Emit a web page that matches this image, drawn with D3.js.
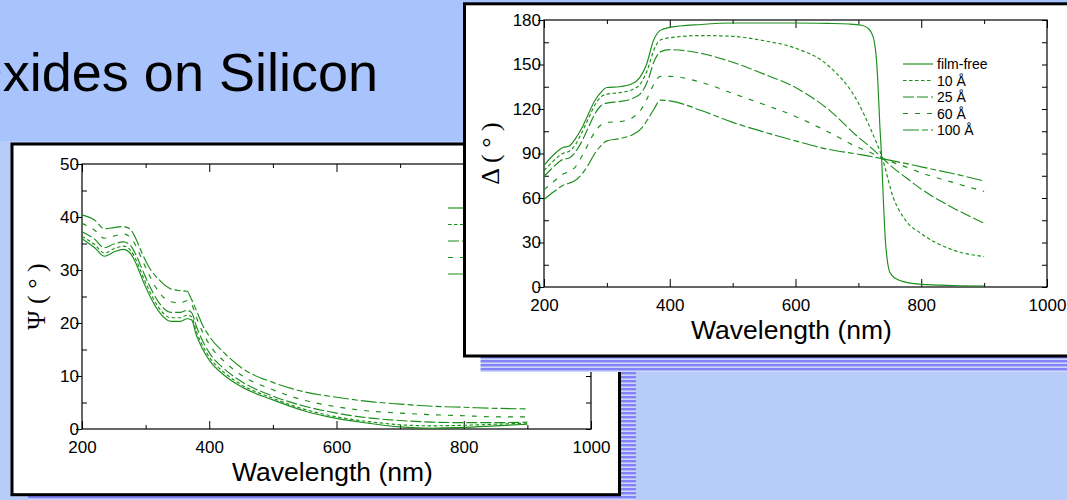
<!DOCTYPE html>
<html>
<head>
<meta charset="utf-8">
<script src="https://cdn.jsdelivr.net/npm/d3@7"></script>
<style>
  html, body { margin: 0; padding: 0; background: #b7ccf8; }
  svg { display: block; }
</style>
</head>
<body>
<svg id="slide" width="1067" height="500"></svg>
<script>
// ---- Data -------------------------------------------------------------
const seriesNames = ["film-free", "10 Å", "25 Å", "60 Å", "100 Å"];

// Psi (degrees) versus wavelength (nm)
const psiWl        = [200, 220, 235, 250, 265, 275, 285, 295, 305, 320, 340, 355, 365, 372, 380, 390, 400, 425, 450, 500, 550, 600, 650, 700, 750, 800, 850, 900];
const psiFilmFree  = [35.9, 34.2, 32.6, 33.4, 33.9, 33.3, 31.2, 28.2, 25.5, 22.3, 20.3, 20.3, 20.8, 20.6, 17.6, 15.0, 13.0, 10.0, 8.0, 5.5, 3.4, 2.0, 1.1, 0.4, 0.15, 0.3, 0.6, 0.9];
const psi10        = [36.3, 34.8, 33.2, 34.0, 34.5, 33.9, 31.9, 29.0, 26.3, 23.0, 21.0, 21.0, 21.5, 21.2, 18.3, 15.6, 13.6, 10.5, 8.4, 5.8, 3.7, 2.3, 1.4, 0.8, 0.6, 0.7, 0.9, 1.1];
const psi25        = [37.2, 35.8, 34.2, 34.9, 35.3, 34.8, 32.8, 30.0, 27.3, 24.0, 22.0, 22.0, 22.4, 22.0, 19.3, 16.5, 14.4, 11.2, 9.0, 6.2, 4.3, 3.0, 2.1, 1.6, 1.3, 1.2, 1.2, 1.3];
const psi60        = [38.8, 37.5, 36.0, 36.4, 36.8, 36.3, 34.5, 31.8, 29.2, 26.0, 24.0, 23.8, 24.2, 23.6, 21.0, 18.2, 16.0, 12.6, 10.2, 7.4, 5.4, 4.2, 3.4, 3.0, 2.7, 2.5, 2.3, 2.3];
const psi100       = [40.4, 39.4, 37.8, 38.0, 38.2, 37.8, 35.8, 33.0, 30.6, 28.3, 26.4, 26.1, 26.0, 24.5, 22.3, 19.5, 17.5, 14.2, 11.6, 8.8, 7.0, 6.0, 5.2, 4.7, 4.3, 4.1, 3.9, 3.8];

// Delta (degrees) versus wavelength (nm); the bare substrate is sampled
// more finely around its sharp drop near 735 nm
const deltaFilmFreeWl = [200, 215, 230, 240, 250, 260, 270, 280, 290, 300, 320, 340, 352, 363, 374, 385, 400, 450, 500, 550, 600, 650, 685, 705, 715, 720, 725, 728, 731, 734, 737, 740, 743, 746, 750, 760, 775, 800, 850, 900];
const deltaFilmFree   = [82, 89, 94, 95, 100, 107, 116, 125, 131, 134.5, 135, 137, 141, 150, 166, 173, 175, 177, 178, 178, 178, 177.7, 177.3, 176.5, 174.5, 172, 166, 157, 138, 110, 87, 56, 31, 18, 10, 5.5, 3.3, 1.8, 1.0, 0.7];

const deltaWl   = [200, 215, 230, 240, 250, 260, 270, 280, 290, 300, 320, 340, 355, 365, 375, 385, 400, 450, 500, 550, 600, 650, 700, 720, 738, 755, 775, 800, 850, 900];
const delta10   = [78.5, 85, 90, 91.5, 96, 104, 113, 122, 128, 130, 131, 133, 138, 147, 160, 166.5, 168, 169.5, 169, 166, 161, 150, 124, 106, 87, 61, 45, 36, 25, 20.5];
const delta25   = [74.5, 81, 86, 87, 91, 98, 107, 116, 122, 124, 125, 127, 131, 139, 152, 158.5, 160, 157.5, 151.5, 143.5, 134.5, 120.5, 101, 94, 87, 80.5, 74, 66, 53.5, 43];
const delta60   = [65.5, 71, 76, 78, 81, 88, 96, 104, 109, 111, 111.5, 114, 120, 128, 137, 142, 142, 138, 130.5, 123, 115, 105, 94, 90.5, 87, 84, 81, 77, 70.5, 64.5];
const delta100  = [59, 64, 68.5, 70, 72, 76, 82, 89.5, 95, 98.5, 100, 102.5, 107, 113, 120, 126, 125.5, 119, 111, 104.5, 98.5, 93, 89.5, 88, 86.5, 85, 83.3, 81, 76.5, 71.5];

// Axis ticks
const wlTicks      = [200, 400, 600, 800, 1000];
const wlMinorTicks = [300, 500, 700, 900];
const psiTicks     = [0, 10, 20, 30, 40, 50];
const psiMinor     = [5, 15, 25, 35, 45];
const deltaTicks   = [0, 30, 60, 90, 120, 150, 180];
const deltaMinor   = [15, 45, 75, 105, 135, 165];

// ---- Styling ------------------------------------------------------------
const GREEN = "#1a8e1a";
const dashes = ["none", "3.5,2.5", "11,3", "5,7", "16,3,6,3"];
const SANS = "'Liberation Sans', Arial, Helvetica, sans-serif";
const SERIF = "'Liberation Serif', 'Times New Roman', serif";

const svg = d3.select("#slide");
const defs = svg.append("defs");

// Dithered drop-shadow fill
const pat = defs.append("pattern")
  .attr("id", "shadowStripes")
  .attr("patternUnits", "userSpaceOnUse")
  .attr("width", 8).attr("height", 4);
pat.append("rect").attr("width", 8).attr("height", 4).attr("fill", "#cdd6fb");
pat.append("rect").attr("width", 8).attr("height", 2.4).attr("fill", "#8383f6");

// Slide background
svg.append("rect").attr("x", 0).attr("y", 0).attr("width", 1067).attr("height", 500).attr("fill", "#b7ccf8");
svg.append("rect").attr("x", 0).attr("y", 0).attr("width", 1067).attr("height", 141).attr("fill", "#a9c4fd");

// Slide title
svg.append("text")
  .attr("x", 378).attr("y", 91)
  .attr("text-anchor", "end")
  .attr("font-family", SANS)
  .attr("font-size", 54)
  .attr("fill", "#000")
  .text("Oxides on Silicon");

// ---- Panel drawing ------------------------------------------------------
function drawPanel(g, cfg) {
  const x = d3.scaleLinear().domain([200, 1000]).range([cfg.left, cfg.right]);
  const y = d3.scaleLinear().domain(cfg.yDomain).range([cfg.bottom, cfg.top]);

  const axisStyle = sel => {
    sel.select(".domain").remove();
    sel.selectAll("line").attr("stroke", "#000").attr("stroke-width", 1);
    sel.selectAll("text").attr("font-family", SANS).attr("font-size", 17).attr("fill", "#000");
  };

  // bottom: labelled major ticks (inward) + minor ticks
  g.append("g").attr("transform", `translate(0,${cfg.bottom})`)
    .call(d3.axisBottom(x).tickValues(wlTicks).tickSize(-8).tickPadding(12).tickFormat(d3.format("d")))
    .call(axisStyle)
    .call(s => s.selectAll("text").attr("dy", "0.71em"));
  g.append("g").attr("transform", `translate(0,${cfg.bottom})`)
    .call(d3.axisBottom(x).tickValues(wlMinorTicks).tickSize(-4).tickFormat(""))
    .call(axisStyle);
  // top
  g.append("g").attr("transform", `translate(0,${cfg.top})`)
    .call(d3.axisTop(x).tickValues(wlTicks).tickSize(-8).tickFormat(""))
    .call(axisStyle);
  g.append("g").attr("transform", `translate(0,${cfg.top})`)
    .call(d3.axisTop(x).tickValues(wlMinorTicks).tickSize(-4).tickFormat(""))
    .call(axisStyle);
  // left: labelled major ticks pointing out, minor ticks pointing in
  g.append("g").attr("transform", `translate(${cfg.left},0)`)
    .call(d3.axisLeft(y).tickValues(cfg.yTicks).tickSize(6).tickPadding(-3).tickFormat(d3.format("d")))
    .call(axisStyle);
  g.append("g").attr("transform", `translate(${cfg.left},0)`)
    .call(d3.axisLeft(y).tickValues(cfg.yMinor).tickSize(-5).tickFormat(""))
    .call(axisStyle);
  // right
  g.append("g").attr("transform", `translate(${cfg.right},0)`)
    .call(d3.axisRight(y).tickValues(cfg.yTicks.concat(cfg.yMinor)).tickSize(-5).tickFormat(""))
    .call(axisStyle);

  // plot frame
  g.append("rect")
    .attr("x", cfg.left).attr("y", cfg.top)
    .attr("width", cfg.right - cfg.left).attr("height", cfg.bottom - cfg.top)
    .attr("fill", "none").attr("stroke", "#000").attr("stroke-width", 1.2);

  // curves
  const line = d3.line().x(d => x(d[0])).y(d => y(d[1])).curve(d3.curveMonotoneX);
  cfg.series.forEach((s, i) => {
    g.append("path")
      .datum(d3.zip(s.wl, s.values))
      .attr("d", line)
      .attr("fill", "none")
      .attr("stroke", GREEN)
      .attr("stroke-width", 1.15)
      .attr("stroke-dasharray", dashes[i]);
  });

  // legend (key lines; the labels only where the panel leaves room)
  const leg = g.append("g").attr("transform", `translate(${cfg.legendX},${cfg.legendY})`);
  seriesNames.forEach((name, i) => {
    const row = leg.append("g").attr("transform", `translate(0,${i * 16.5})`);
    row.append("line").attr("x1", 0).attr("x2", 30).attr("y1", 0).attr("y2", 0)
      .attr("stroke", GREEN).attr("stroke-width", 1.15).attr("stroke-dasharray", dashes[i]);
    if (cfg.legendLabels) {
      row.append("text").attr("x", 34).attr("y", 5)
        .attr("font-family", SANS).attr("font-size", 14).attr("fill", "#000").text(name);
    }
  });

  // axis titles
  g.append("text")
    .attr("x", (cfg.left + cfg.right) / 2 - 4).attr("y", cfg.bottom + 52)
    .attr("text-anchor", "middle")
    .attr("font-family", SANS).attr("font-size", 26.5).attr("fill", "#000")
    .text("Wavelength (nm)");
  g.append("text")
    .attr("transform", `translate(${cfg.yTitleX},${(cfg.top + cfg.bottom) / 2}) rotate(-90)`)
    .attr("text-anchor", "middle")
    .attr("font-family", SERIF).attr("font-size", 26).attr("fill", "#000")
    .text(cfg.yTitle);
}

// ---- Left slide box: Psi -------------------------------------------------
svg.append("rect").attr("x", 28).attr("y", 160).attr("width", 608).attr("height", 351)
  .attr("fill", "url(#shadowStripes)");
svg.append("rect").attr("x", 12).attr("y", 144).attr("width", 607.5).attr("height", 350.7)
  .attr("fill", "#fff").attr("stroke", "#000").attr("stroke-width", 3);

drawPanel(svg.append("g"), {
  left: 82, right: 591, top: 164, bottom: 429,
  yDomain: [0, 50], yTicks: psiTicks, yMinor: psiMinor,
  yTitle: "Ψ ( ° )", yTitleX: 45,
  legendX: 448, legendY: 208, legendLabels: false,
  series: [
    { wl: psiWl, values: psiFilmFree },
    { wl: psiWl, values: psi10 },
    { wl: psiWl, values: psi25 },
    { wl: psiWl, values: psi60 },
    { wl: psiWl, values: psi100 }
  ]
});

// ---- Right slide box: Delta ---------------------------------------------
svg.append("rect").attr("x", 480.5).attr("y", 20).attr("width", 620).attr("height", 352)
  .attr("fill", "url(#shadowStripes)");
svg.append("rect").attr("x", 464.5).attr("y", 3.8).attr("width", 620).attr("height", 352.2)
  .attr("fill", "#fff").attr("stroke", "#000").attr("stroke-width", 3);

drawPanel(svg.append("g"), {
  left: 544, right: 1047, top: 20, bottom: 287,
  yDomain: [0, 180], yTicks: deltaTicks, yMinor: deltaMinor,
  yTitle: "Δ ( ° )", yTitleX: 499,
  legendX: 903, legendY: 64, legendLabels: true,
  series: [
    { wl: deltaFilmFreeWl, values: deltaFilmFree },
    { wl: deltaWl, values: delta10 },
    { wl: deltaWl, values: delta25 },
    { wl: deltaWl, values: delta60 },
    { wl: deltaWl, values: delta100 }
  ]
});
</script>
</body>
</html>
